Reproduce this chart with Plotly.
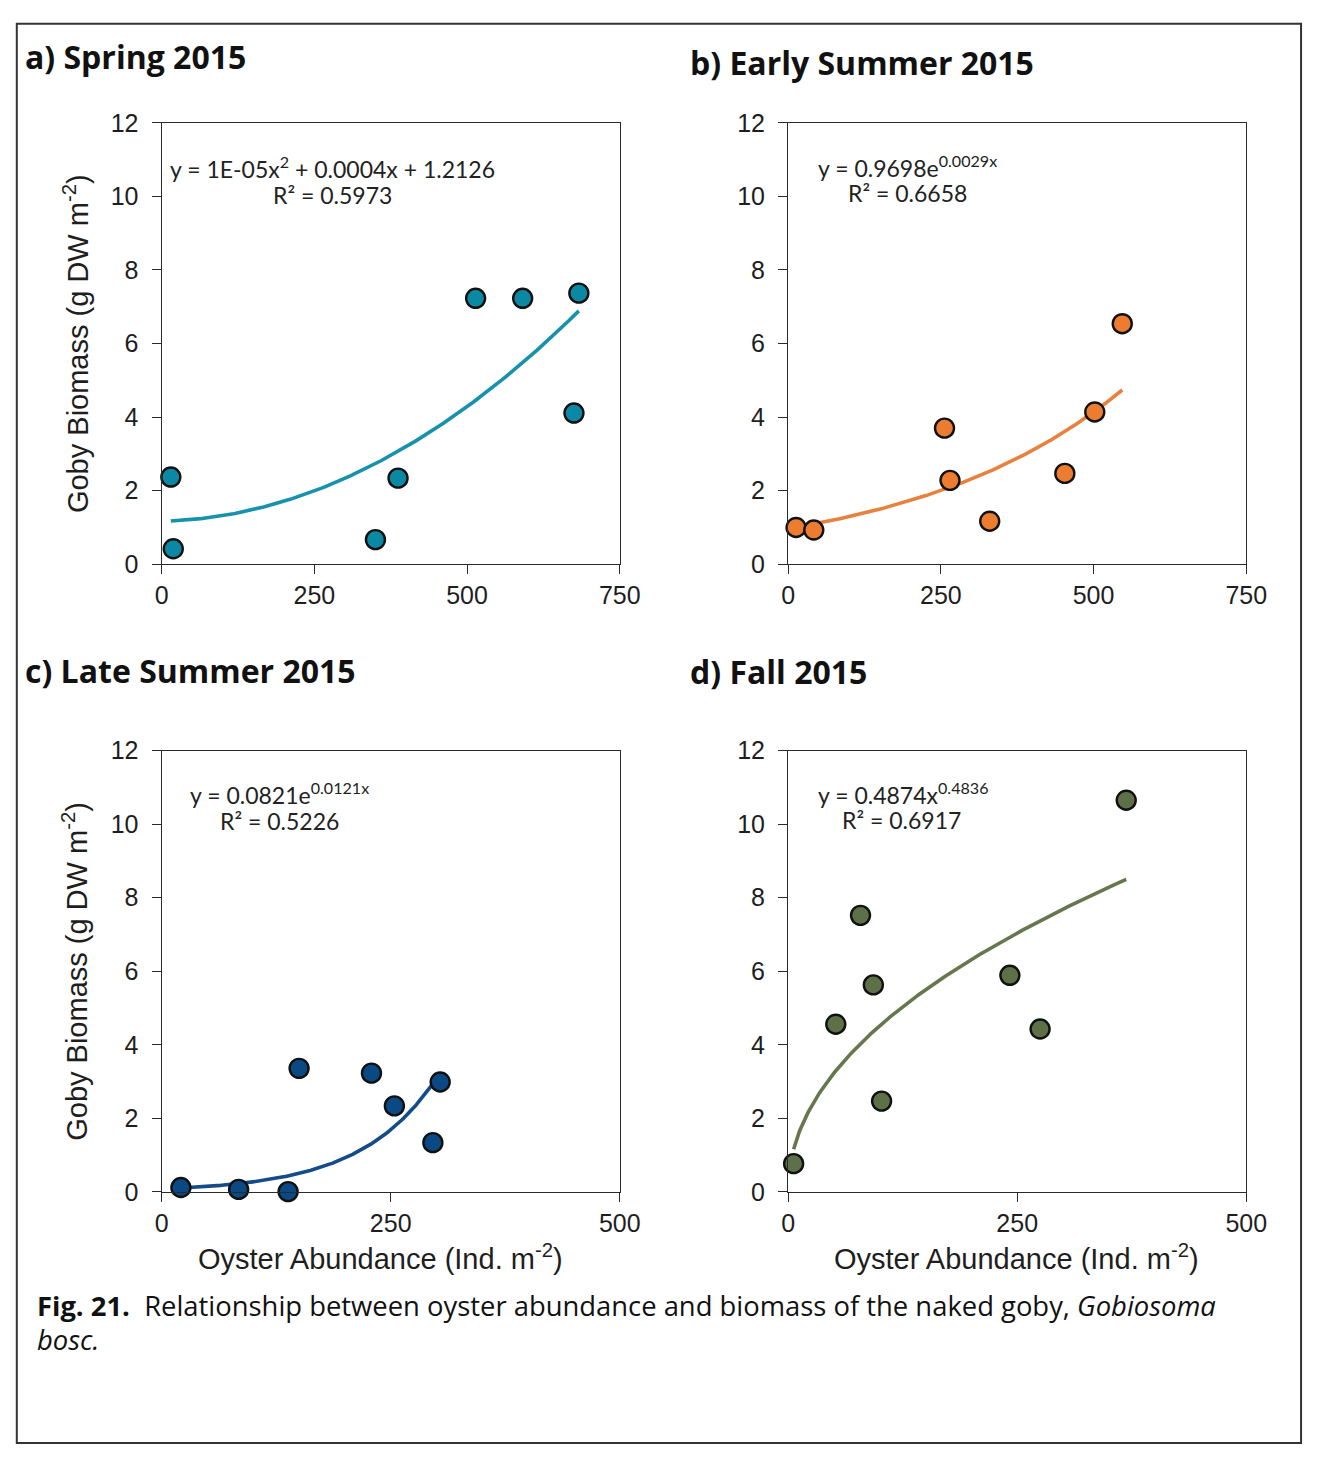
import numpy as np
import plotly.graph_objects as go

W, H = 1325, 1459

# ---- data: oyster abundance (Ind. m-2) vs goby biomass (g DW m-2) ----
spring_x = [15, 19, 350, 387, 514, 591, 675, 683]
spring_y = [2.37, 0.42, 0.67, 2.34, 7.23, 7.23, 4.11, 7.37]

early_x = [13, 42, 256, 265, 330, 453, 502, 547]
early_y = [1.00, 0.93, 3.70, 2.28, 1.17, 2.47, 4.14, 6.54]

late_x = [21, 84, 138, 150, 229, 254, 296, 304]
late_y = [0.12, 0.07, 0.01, 3.36, 3.23, 2.34, 1.34, 2.99]

fall_x = [6, 52, 79, 93, 102, 242, 275, 369]
fall_y = [0.77, 4.56, 7.52, 5.63, 2.47, 5.89, 4.43, 10.65]

# reported trendline coefficients
early_a, early_b = 0.9698, 0.0029     # exponential
late_a, late_b = 0.0821, 0.0121       # exponential
fall_a, fall_b = 0.4874, 0.4836       # power

panel_titles = ["a) Spring 2015", "b) Early Summer 2015",
                "c) Late Summer 2015", "d) Fall 2015"]
equations = [
    ("y = 1E-05x<sup>2</sup> + 0.0004x + 1.2126", "R² = 0.5973"),
    ("y = 0.9698e<sup>0.0029x</sup>", "R² = 0.6658"),
    ("y = 0.0821e<sup>0.0121x</sup>", "R² = 0.5226"),
    ("y = 0.4874x<sup>0.4836</sup>", "R² = 0.6917"),
]

marker_colors = ["#0b88a3", "#ec7d30", "#0b4985", "#5e7047"]
line_colors = ["#1791ac", "#e8813e", "#134c88", "#66774f"]


def px(x):
    return x / W


def py(y):
    return 1 - y / H


# trend curves
def spring_curve(x):
    # quadratic least-squares (displayed coefficients are rounded)
    c = np.polyfit(spring_x, spring_y, 2)
    return np.polyval(c, x)


def early_curve(x):
    return early_a * np.exp(early_b * x)


def late_curve(x):
    return late_a * np.exp(late_b * x)


def fall_curve(x):
    return fall_a * np.power(x, fall_b)


series = [
    (spring_x, spring_y, spring_curve),
    (early_x, early_y, early_curve),
    (late_x, late_y, late_curve),
    (fall_x, fall_y, fall_curve),
]

# plot-area pixel boxes (left, right, top, bottom)
boxes = [
    (158, 626, 111, 561),
    (798, 1266, 111, 561),
    (158, 626, 751, 1201),
    (798, 1266, 751, 1201),
]
xmax = [750, 750, 500, 500]

fig = go.Figure()

tick_font = dict(family="Liberation Sans, Arial, sans-serif", size=25, color="#1e1e1e")
layout = dict(
    width=W, height=H,
    margin=dict(l=0, r=0, t=0, b=0),
    paper_bgcolor="white", plot_bgcolor="white",
    showlegend=False,
)

annotations = []
for i, ((xs, ys, curve), (l, r, t, b)) in enumerate(zip(series, boxes)):
    k = "" if i == 0 else str(i + 1)
    xa, ya = "x" + k, "y" + k
    xx = np.linspace(min(xs), max(xs), 300)
    fig.add_trace(go.Scatter(
        x=xx, y=curve(xx), mode="lines", xaxis=xa, yaxis=ya,
        line=dict(color=line_colors[i], width=3.6), hoverinfo="skip"))
    fig.add_trace(go.Scatter(
        x=xs, y=ys, mode="markers", xaxis=xa, yaxis=ya, cliponaxis=False,
        marker=dict(size=19, color=marker_colors[i],
                    line=dict(color="#111111", width=2.4))))

    axis_common = dict(
        showline=True, linecolor="#2a2a2a", linewidth=1.3, mirror=True,
        ticks="outside", ticklen=9, tickwidth=1.3, tickcolor="#2a2a2a",
        showgrid=False, zeroline=False, tickfont=tick_font, fixedrange=True,
    )
    layout["xaxis" + k] = dict(
        axis_common, domain=[px(l), px(r)], range=[0, xmax[i]],
        tickmode="linear", tick0=0, dtick=250, anchor=ya, ticklabelstandoff=0)
    layout["yaxis" + k] = dict(
        axis_common, domain=[py(b), py(t)], range=[0, 12],
        tickmode="linear", tick0=0, dtick=2, anchor=xa, ticklabelstandoff=8)

# panel titles
title_pos = [(16, 43), (696, 49), (16, 669), (696, 670)]
for txt, (x, y) in zip(panel_titles, title_pos):
    annotations.append(dict(
        text="<b>%s</b>" % txt, x=px(x), y=py(y), xref="paper", yref="paper",
        xanchor="left", yanchor="middle", showarrow=False,
        font=dict(family="Open Sans, sans-serif", size=32, color="#111111")))

# trendline equations
eq_pos = [((333, 157), (333, 185)), ((920, 155), (920, 182)),
          ((278, 795), (278, 823)), ((915, 795), (914, 822))]
eq_font = dict(family="Lato, sans-serif", size=23, color="#222222")
for (l1, l2), ((x1, y1), (x2, y2)) in zip(equations, eq_pos):
    annotations.append(dict(text=l1, x=px(x1), y=py(y1), xref="paper", yref="paper",
                            xanchor="center", yanchor="middle", showarrow=False, font=eq_font))
    annotations.append(dict(text=l2, x=px(x2), y=py(y2), xref="paper", yref="paper",
                            xanchor="center", yanchor="middle", showarrow=False, font=eq_font))

# axis titles
label_font = dict(family="Liberation Sans, Arial, sans-serif", size=29, color="#1e1e1e")
for yc in (336, 976):
    annotations.append(dict(
        text="Goby Biomass (g DW m<sup>-2</sup>)", x=px(70), y=py(yc),
        xref="paper", yref="paper", textangle=-90, xanchor="center",
        yanchor="middle", showarrow=False, font=label_font))
for xc in (382, 1031):
    annotations.append(dict(
        text="Oyster Abundance (Ind. m<sup>-2</sup>)", x=px(xc), y=py(1267),
        xref="paper", yref="paper", xanchor="center", yanchor="middle",
        showarrow=False, font=label_font))

# figure caption
cap_font = dict(family="Open Sans, sans-serif", size=27.4, color="#111111")
annotations.append(dict(
    text="<b>Fig. 21.</b>  Relationship between oyster abundance and biomass of the naked goby, <i>Gobiosoma</i>",
    x=px(29), y=py(1317), xref="paper", yref="paper", xanchor="left",
    yanchor="middle", showarrow=False, font=cap_font))
annotations.append(dict(
    text="<i>bosc.</i>", x=px(29), y=py(1351), xref="paper", yref="paper",
    xanchor="left", yanchor="middle", showarrow=False, font=cap_font))

layout["annotations"] = annotations
layout["shapes"] = [dict(
    type="rect", xref="paper", yref="paper",
    x0=px(10), x1=px(1322), y0=py(1457), y1=py(10),
    line=dict(color="#333333", width=2), fillcolor="rgba(0,0,0,0)")]

fig.update_layout(**layout)
fig.write_html("out.html")
